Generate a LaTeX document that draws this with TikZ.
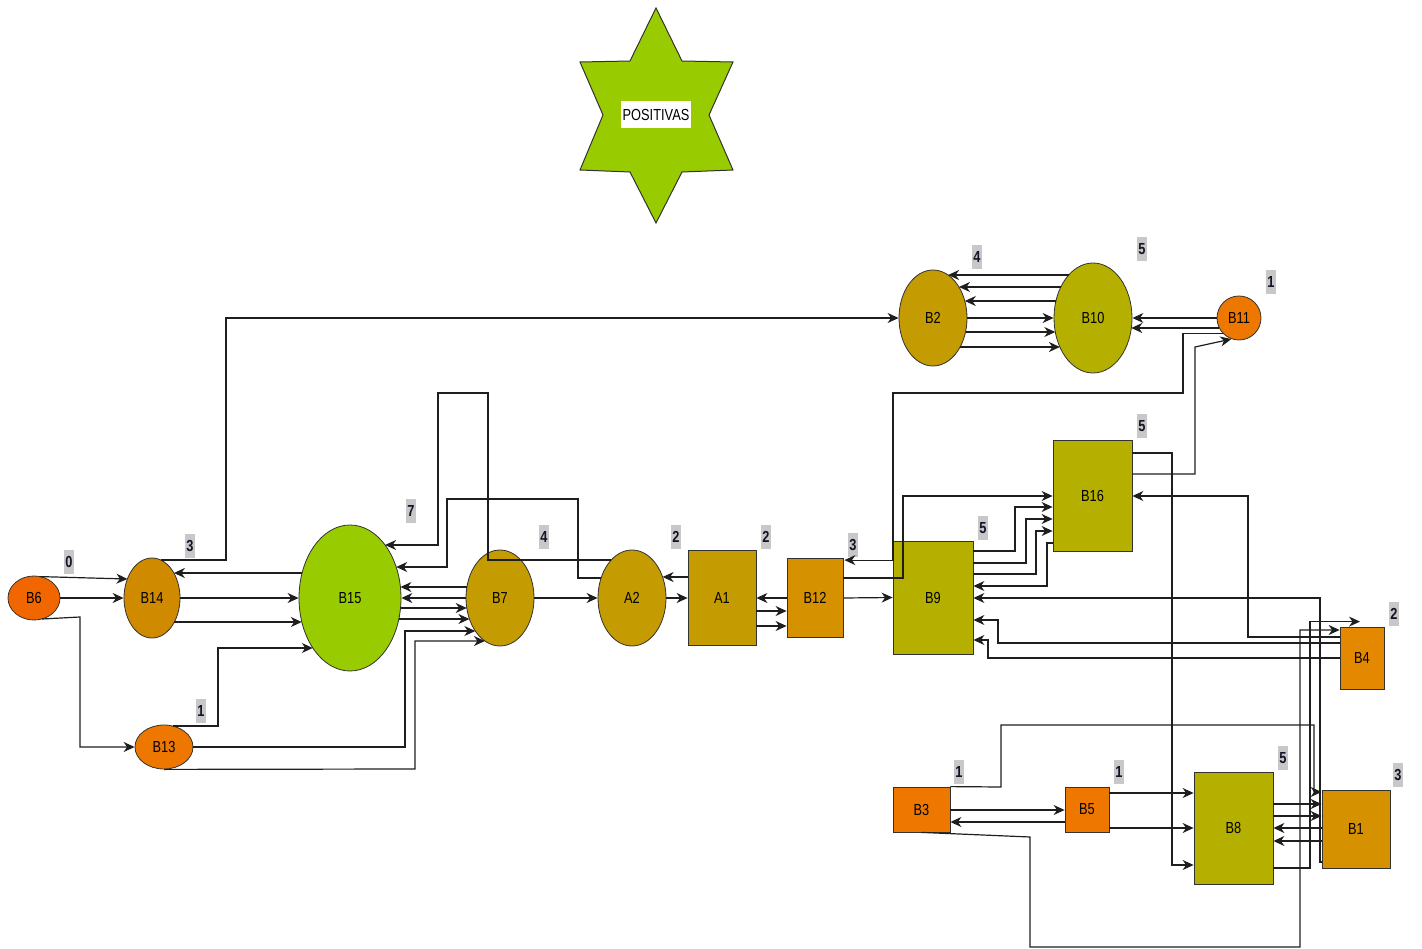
\documentclass[tikz,border=0pt]{standalone}
\usepackage{fontspec}
\newfontfamily\nodefont[FakeStretch=0.8]{Liberation Sans}
\usetikzlibrary{shapes.geometric,arrows.meta,calc}

\definecolor{cgreen}{RGB}{153,204,0}
\definecolor{cgold}{RGB}{196,155,0}
\definecolor{camber}{RGB}{208,138,0}
\definecolor{cochre}{RGB}{214,145,0}
\definecolor{corange}{RGB}{238,119,0}
\definecolor{cred}{RGB}{242,102,0}
\definecolor{cdeep}{RGB}{228,136,0}
\definecolor{colive}{RGB}{181,176,0}
\definecolor{edgec}{RGB}{30,30,30}
\definecolor{rimc}{RGB}{50,50,50}
\definecolor{numfill}{RGB}{200,200,200}
\definecolor{numtext}{RGB}{20,20,40}

\begin{document}
\begin{tikzpicture}[x=1pt,y=-1pt,
  blob/.style={ellipse, draw=rimc, line width=0.8pt, inner sep=0pt, text=black,
    font=\nodefont\fontsize{16}{16}\selectfont},
  block/.style={rectangle, draw=rimc, line width=0.8pt, inner sep=0pt, text=black,
    font=\nodefont\fontsize{16}{16}\selectfont},
  num/.style={fill=numfill, inner xsep=1.4pt, inner ysep=0pt, minimum height=24pt,
    text=numtext, font=\nodefont\bfseries\fontsize{16}{16}\selectfont},
  link/.style={draw=edgec, line width=1.2pt, -{Stealth[length=11pt,width=10pt,inset=3.5pt]}}]

\useasboundingbox (0,0) rectangle (1422,949);

% star with its caption
\draw[fill=cgreen, draw=rimc, line width=1pt, line join=miter]
  (656,8) -- (682,61) -- (733,62) -- (709,115) -- (733,170) -- (682,172) --
  (656,223) -- (630,172) -- (580,170) -- (603,115) -- (580,62) -- (630,61) -- cycle;
\node[fill=white, inner xsep=2pt, inner ysep=0pt, minimum height=27pt,
  font=\nodefont\fontsize{16}{16}\selectfont] (pos) at (656,115) {POSITIVAS};

% round nodes
\node[blob, fill=cred,    minimum width=52pt, minimum height=44pt]  (B6)  at (34,598)   {B6};
\node[blob, fill=camber,  minimum width=56pt, minimum height=80pt]  (B14) at (152,598)  {B14};
\node[blob, fill=corange, minimum width=58pt, minimum height=44pt]  (B13) at (164,747)  {B13};
\node[blob, fill=cgreen,  minimum width=102pt, minimum height=146pt] (B15) at (350,598) {B15};
\node[blob, fill=cgold,   minimum width=68pt, minimum height=96pt]  (B7)  at (500,598)  {B7};
\node[blob, fill=cgold,   minimum width=68pt, minimum height=96pt]  (A2)  at (632,598)  {A2};
\node[blob, fill=cgold,   minimum width=68pt, minimum height=96pt]  (B2)  at (933,318)  {B2};
\node[blob, fill=colive,  minimum width=78pt, minimum height=110pt] (B10) at (1093,318) {B10};
\node[blob, fill=corange, minimum width=44pt, minimum height=44pt]  (B11) at (1239,318) {B11};

% square nodes
\node[block, fill=cgold,   minimum width=68pt, minimum height=95pt]  (A1)  at (722,598)    {A1};
\node[block, fill=cochre,  minimum width=56pt, minimum height=79pt]  (B12) at (815,598)    {B12};
\node[block, fill=colive,  minimum width=80pt, minimum height=113pt] (B9)  at (933,597.5)  {B9};
\node[block, fill=colive,  minimum width=79pt, minimum height=111pt] (B16) at (1092.5,496) {B16};
\node[block, fill=cdeep,   minimum width=44pt, minimum height=62pt]  (B4)  at (1362,658)   {B4};
\node[block, fill=cochre,  minimum width=68pt, minimum height=78pt]  (B1)  at (1356,829)   {B1};
\node[block, fill=colive,  minimum width=79pt, minimum height=112pt] (B8)  at (1233.5,828) {B8};
\node[block, fill=corange, minimum width=57pt, minimum height=45pt]  (B3)  at (921.5,809.5) {B3};
\node[block, fill=corange, minimum width=44pt, minimum height=45pt]  (B5)  at (1087,809.5) {B5};

% weights
\node[num] (n6)  at (69,562)   {0};
\node[num] (n14) at (190,546)  {3};
\node[num] (n13) at (201,711)  {1};
\node[num] (n15) at (411,511)  {7};
\node[num] (n7)  at (544,537)  {4};
\node[num] (na2) at (676,537)  {2};
\node[num] (na1) at (766,537)  {2};
\node[num] (n12) at (853,545)  {3};
\node[num] (n9)  at (983,528)  {5};
\node[num] (n16) at (1142,426) {5};
\node[num] (n2)  at (977,257)  {4};
\node[num] (n10) at (1142,249) {5};
\node[num] (n11) at (1271,282) {1};
\node[num] (n4)  at (1394,614) {2};
\node[num] (n1)  at (1398,775) {3};
\node[num] (n8)  at (1283,758) {5};
\node[num] (n3)  at (959,772)  {1};
\node[num] (n5)  at (1119,772) {1};

% left cluster
\draw[link] ($(B6.center)+(6,-21.4)$) -- ($(B14.center)+(-24.6,-19)$);
\draw[link] (B6.east) -- (B14.west);
\draw[link] ($(B6.center)+(8,21)$) -- (80,617) |- (B13.west);
\draw[link] ($(B14.center)+(9,-38)$) -- (226,560) |- (B2.west);
\draw[link] ($(B15.center)+(-47.9,-25)$) -- ($(B14.center)+(21.9,-25)$);
\draw[link] (B14.east) -- (B15.west);
\draw[link] ($(B14.center)+(22.4,24)$) -- ($(B15.center)+(-48.2,24)$);
\draw[link] ($(B13.center)+(8.6,-21)$) -- (218,726) |- ($(B15.center)+(-37.2,50)$);
\draw[link] (B13.east) -- (405,747) |- ($(B7.center)+(-24.7,33)$);
\draw[link] (B13.south) -- (415,769) |- ($(B7.center)+(-15.1,43)$);

% B15 / B7 / A2 / A1 / B12
\draw[link] ($(B7.center)+(-33.1,-11)$) -- ($(B15.center)+(50.4,-11)$);
\draw[link] (B7.west) -- (B15.east);
\draw[link] ($(B15.center)+(50.5,10)$) -- ($(B7.center)+(-33.3,10)$);
\draw[link] ($(B15.center)+(48.8,21)$) -- ($(B7.center)+(-30.6,21)$);
\draw[link] (B7.east) -- (A2.west);
\draw[link] (A1.west |- 0,577) -- ($(A2.center)+(30.6,-21)$);
\draw[link] (A2.east) -- (A1.west);
\draw[link] ($(A2.center)+(-20.8,-38)$) -- (488,560) -- (488,393) -- (438,393) |- ($(B15.center)+(35.1,-53)$);
\draw[link] ($(A2.center)+(-30.9,-20)$) -- (578,578) -- (578,499) -- (447,499) |- ($(B15.center)+(46.2,-31)$);
\draw[link] (B12.west) -- (A1.east);
\draw[link] (A1.east |- 0,611) -- (B12.west |- 0,611);
\draw[link] (A1.east |- 0,626) -- (B12.west |- 0,626);
\draw[link] (B12.east) -- (B9.west);
\draw[link] (B11.225) -| (1183,393) -- (893,393) |- ($(B12.north east)+(1,2)$);
\draw[link] (B12.east |- 0,578) -- (903,578) |- (B16.west);

% B9 / B16 / B4 / B1
\draw[link] (B9.east |- 0,551) -- (1015,551) |- (B16.west |- 0,507);
\draw[link] (B9.east |- 0,563) -- (1026,563) |- (B16.west |- 0,519);
\draw[link] (B9.east |- 0,574) -- (1036,574) |- (B16.west |- 0,531);
\draw[link] (B16.west |- 0,543) -- (1047,543) |- (B9.east |- 0,586);
\draw[link] (B1.west |- 0,862) -- (1320,862) |- (B9.east |- 0,598);
\draw[link] (B4.west |- 0,643) -- (998,643) |- (B9.east |- 0,620);
\draw[link] (B4.west |- 0,658) -- (988,658) |- (B9.east |- 0,640);
\draw[link] (B4.west |- 0,637) -- (1248,637) |- (B16.east |- 0,496);
\draw[link] (B16.east |- 0,453) -- (1172,453) |- (B8.west |- 0,865);
\draw[link] (B16.east |- 0,474) -- (1195,474) -- (1195,347) -- (B11.250);

% B2 / B10 / B11
\draw[link] ($(B10.center)+(-24.3,-43)$) -- ($(B2.center)+(15.1,-43)$);
\draw[link] ($(B10.center)+(-32.2,-31)$) -- ($(B2.center)+(26,-31)$);
\draw[link] ($(B10.center)+(-37.1,-17)$) -- ($(B2.center)+(31.8,-17)$);
\draw[link] (B2.east) -- (B10.west);
\draw[link] ($(B2.center)+(32.5,14)$) -- ($(B10.center)+(-37.7,14)$);
\draw[link] ($(B2.center)+(27.1,29)$) -- ($(B10.center)+(-33.1,29)$);
\draw[link] (B11.west) -- (B10.east);
\draw[link] ($(B11.center)+(-19.6,10)$) -- ($(B10.center)+(38.3,10)$);

% B3 / B5 / B8 / B1
\draw[link] (B3.north east) -- (1001,787) -- (1001,725) -- (1314,725) |- (B1.west |- 0,792);
\draw[link] (B3.east |- 0,810) -- (B5.west |- 0,810);
\draw[link] (B5.west |- 0,822) -- (B3.east |- 0,822);
\draw[link] (B3.south) -- (1030,837) -- (1030,947) -- (1300,947) |- (B4.west |- 0,630);
\draw[link] (B5.east |- 0,793) -- (B8.west |- 0,793);
\draw[link] (B5.east |- 0,828) -- (B8.west |- 0,828);
\draw[link] (B8.east |- 0,804) -- (B1.west |- 0,804);
\draw[link] (B8.east |- 0,816) -- (B1.west |- 0,816);
\draw[link] (B1.west |- 0,828) -- (B8.east |- 0,828);
\draw[link] (B1.west |- 0,841) -- (B8.east |- 0,841);
\draw[link] (B8.east |- 0,868) -- (1310,868) |- ($(B4.north)+(-2,-5)$);

\end{tikzpicture}
\end{document}
